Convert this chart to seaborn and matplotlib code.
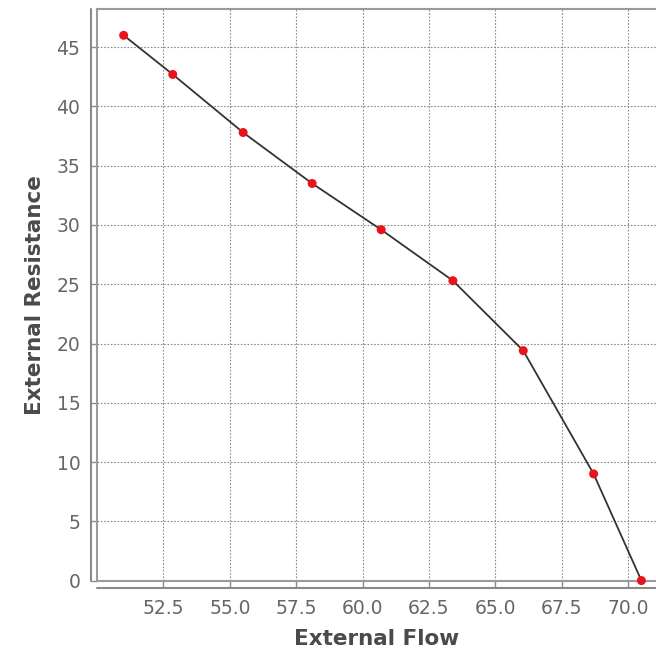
import numpy as np
import pandas as pd
import matplotlib
matplotlib.use("Agg")
import matplotlib.pyplot as plt
from matplotlib.lines import Line2D
import seaborn as sns

# values
external_flow = [51.0, 52.85, 55.5, 58.1, 60.7, 63.4, 66.05, 68.7, 70.5]
external_resistance = [46.0, 42.7, 37.8, 33.5, 29.6, 25.3, 19.4, 9.0, 0.0]
x_ticks = [52.5, 55.0, 57.5, 60.0, 62.5, 65.0, 67.5, 70.0]
y_ticks = [0, 5, 10, 15, 20, 25, 30, 35, 40, 45]

sns.set_theme(style="white")
plt.rcParams["font.family"] = ["DejaVu Sans"]

df = pd.DataFrame({"flow": external_flow, "resistance": external_resistance})

fig = plt.figure(figsize=(6.56, 6.59), dpi=100)
ax = fig.add_axes([0.148, 0.119, 0.852, 0.867])

sns.lineplot(data=df, x="flow", y="resistance", sort=False, color="#333333",
             linewidth=1.3, ax=ax, zorder=3)
sns.scatterplot(data=df, x="flow", y="resistance", color="#e8141a", s=42,
                edgecolor="none", ax=ax, zorder=4, clip_on=False)

ax.set_xlim(50.0, 71.05)
ax.set_ylim(0, 48.2)
ax.set_xticks(x_ticks)
ax.set_xticklabels([f"{t:.1f}" for t in x_ticks])
ax.set_yticks(y_ticks)

ax.grid(True, color="#8a8a8a", linestyle=(0, (1.5, 1.5)), linewidth=0.8)

# plot area outline (top, left, bottom; right edge is cut off in the original)
for name, s in ax.spines.items():
    if name == "right":
        s.set_visible(False)
    else:
        s.set_color("#9a9a9a")
        s.set_linewidth(1.5)

# offset axis lines like the original
off_x = 6 / 656 / 0.852
off_y = 7 / 659 / 0.867
ax.add_line(Line2D([-off_x, -off_x], [0, 1], transform=ax.transAxes,
                   color="#8a8a8a", linewidth=1.5, clip_on=False))
ax.add_line(Line2D([0, 1], [-off_y, -off_y], transform=ax.transAxes,
                   color="#8a8a8a", linewidth=1.5, clip_on=False))

ax.tick_params(axis="both", which="major", length=4, width=1, color="#8a8a8a",
               labelsize=13.5, labelcolor="#666666", direction="out",
               left=True, bottom=True)
ax.tick_params(axis="y", pad=8)
ax.tick_params(axis="x", pad=9)

ax.set_xlabel("External Flow", fontsize=15.5, fontweight="bold", color="#4a4a4a", labelpad=8)
ax.set_ylabel("External Resistance", fontsize=15.5, fontweight="bold", color="#4a4a4a", labelpad=8)

fig.savefig("out.png", dpi=100)
